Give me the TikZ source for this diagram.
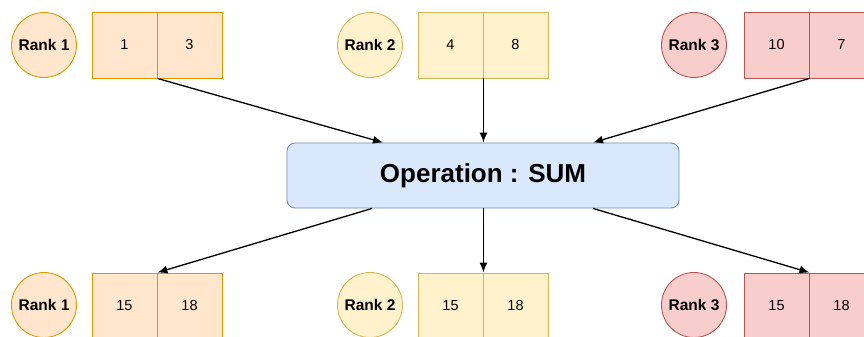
\documentclass[tikz,border=0pt]{standalone}
\usepackage{fontspec}
\setmainfont{Liberation Sans}
\usetikzlibrary{arrows.meta,calc}
\definecolor{orF}{HTML}{FFE6CC}\definecolor{orD}{HTML}{D79B00}
\definecolor{yeF}{HTML}{FFF2CC}\definecolor{yeD}{HTML}{D6B656}
\definecolor{reF}{HTML}{F8CECC}\definecolor{reD}{HTML}{B85450}
\definecolor{blF}{HTML}{DAE8FC}\definecolor{blD}{HTML}{6C8EBF}
\tikzset{
  rankc/.style={circle,draw=#1D,fill=#1F,line width=0.9pt,minimum size=65pt,inner sep=0pt,font=\fontsize{15.5}{17}\selectfont\bfseries},
  cell/.style={rectangle,draw=#1D,fill=#1F,line width=0.9pt,minimum width=65pt,minimum height=66pt,inner sep=0pt,font=\fontsize{14.5}{16}\selectfont},
  opbox/.style={rectangle,rounded corners=8pt,draw=blD,fill=blF,line width=0.9pt,minimum width=392pt,minimum height=65pt,font=\fontsize{26}{30}\selectfont\bfseries},
  conn/.style={line width=1.3pt,-{Latex[length=10pt,width=8pt]}}
}
\begin{document}
\begin{tikzpicture}[x=1pt,y=-1pt]
\useasboundingbox (0,0) rectangle (864,337);
% top row
\node[rankc=or] (r1) at (44,45) {Rank 1};
\node[cell=or] (a1l) at (124.5,45) {1};
\node[cell=or] (a1r) at (189.5,45) {3};
\node[rankc=ye] (r2) at (370,45) {Rank 2};
\node[cell=ye] (a2l) at (450.5,45) {4};
\node[cell=ye] (a2r) at (515.5,45) {8};
\node[rankc=re] (r3) at (694,45) {Rank 3};
\node[cell=re] (a3l) at (776.5,45) {10};
\node[cell=re] (a3r) at (841.5,45) {7};
% operation
\node[opbox] (op) at (483,175.5) {Operation : SUM};
% bottom row
\node[rankc=or] (s1) at (44,305) {Rank 1};
\node[cell=or] (b1l) at (124.5,306) {15};
\node[cell=or] (b1r) at (189.5,306) {18};
\node[rankc=ye] (s2) at (370,305) {Rank 2};
\node[cell=ye] (b2l) at (450.5,306) {15};
\node[cell=ye] (b2r) at (515.5,306) {18};
\node[rankc=re] (s3) at (694,305) {Rank 3};
\node[cell=re] (b3l) at (776.5,306) {15};
\node[cell=re] (b3r) at (841.5,306) {18};
% connectors
\draw[conn] (a1l.south east) -- ([xshift=-100pt]op.north);
\draw[conn] (a2l.south east) -- (a2l.south east |- op.north);
\draw[conn] (a3l.south east) -- ([xshift=110pt]op.north);
\draw[conn] ([xshift=-111pt]op.south) -- (b1l.north east);
\draw[conn] (b2l.north east |- op.south) -- (b2l.north east);
\draw[conn] ([xshift=110pt]op.south) -- (b3l.north east);
\end{tikzpicture}
\end{document}
